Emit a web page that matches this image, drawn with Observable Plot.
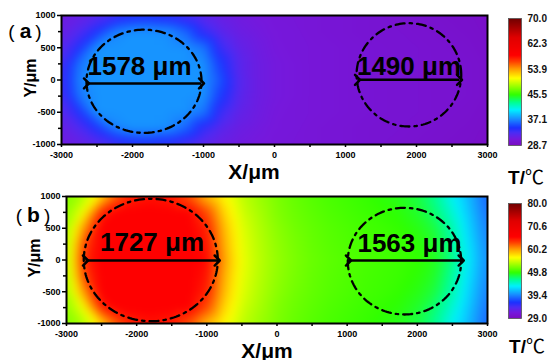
<!DOCTYPE html>
<html>
<head>
<meta charset="utf-8">
<script src="https://cdn.jsdelivr.net/npm/d3@7"></script>
<script src="https://cdn.jsdelivr.net/npm/@observablehq/plot@0.6"></script>
<style>
  html, body { margin: 0; padding: 0; background: #fff; }
  body { width: 551px; height: 360px; position: relative; overflow: hidden; font-family: "Liberation Sans", Arial, sans-serif; color: #000; }
  .box { position: absolute; }
  .lab { position: absolute; line-height: 1; white-space: nowrap; transform: translate(-50%, -50%); }
</style>
</head>
<body>
<div class="box" id="pa" style="left:0;top:0"></div>
<div class="box" id="pb" style="left:0;top:180px"></div>
<div class="box" id="ca" style="left:500px;top:0"></div>
<div class="box" id="cb" style="left:500px;top:180px"></div>

<div class="lab" style="left:25px;top:30px;font-size:19px;">(<b style="font-size:21px;margin:0 4px 0 5px">a</b>)</div>
<div class="lab" style="left:33px;top:214px;font-size:19px;">(<b style="font-size:21px;margin:0 4px 0 5px">b</b>)</div>
<div class="lab" style="left:31px;top:78px;font-size:16px;font-weight:bold;transform:translate(-50%,-50%) rotate(-90deg)">Y/μm</div>
<div class="lab" style="left:35px;top:258px;font-size:16px;font-weight:bold;transform:translate(-50%,-50%) rotate(-90deg)">Y/μm</div>
<div class="lab" style="left:254px;top:171px;font-size:21px;font-weight:bold">X/μm</div>
<div class="lab" style="left:267px;top:350px;font-size:21px;font-weight:bold">X/μm</div>
<div class="lab" style="left:526px;top:176px;font-size:19px;"><b>T/</b><span style="font-family:'Noto Sans CJK SC'">℃</span></div>
<div class="lab" style="left:527px;top:345px;font-size:19px;"><b>T/</b><span style="font-family:'Noto Sans CJK SC'">℃</span></div>

<script>
// ---- grid coordinates (μm) ----
const xs = [-3000,-2750,-2500,-2250,-2000,-1750,-1500,-1250,-1000,-750,-500,-250,0,250,500,750,1000,1250,1500,1750,2000,2250,2500,2750,3000];
const ys = [1000,750,500,250,0,-250,-500,-750,-1000];

// ---- panel (a) temperatures (°C), rows follow ys, columns follow xs ----
const tempA = [
  [31.2,31.5,32.2,33.0,33.8,34.0,33.5,32.7,31.9,31.3,31.0,30.8,30.6,30.5,30.4,30.3,30.2,30.1,30.0,29.9,29.8,29.7,29.6,29.5,29.3],
  [31.5,32.6,34.5,36.9,37.5,37.5,37.4,36.2,33.6,32.1,31.3,31.0,30.7,30.6,30.4,30.3,30.2,30.1,30.0,30.0,29.9,29.8,29.7,29.6,29.4],
  [32.2,34.4,37.5,37.5,37.5,37.5,37.5,37.5,36.7,33.3,31.8,31.2,30.8,30.6,30.5,30.4,30.3,30.2,30.1,30.0,30.0,29.9,29.8,29.7,29.5],
  [32.9,36.6,37.5,37.5,37.5,37.5,37.5,37.5,37.5,34.7,32.2,31.3,30.9,30.7,30.5,30.4,30.3,30.2,30.1,30.0,30.0,29.9,29.9,29.8,29.6],
  [33.2,37.0,37.5,37.5,37.5,37.5,37.5,37.5,37.5,35.5,32.4,31.3,30.9,30.7,30.5,30.4,30.3,30.2,30.1,30.0,30.0,29.9,29.9,29.8,29.6],
  [32.9,36.6,37.5,37.5,37.5,37.5,37.5,37.5,37.5,34.7,32.2,31.3,30.9,30.7,30.5,30.4,30.3,30.2,30.1,30.0,30.0,29.9,29.9,29.8,29.6],
  [32.2,34.4,37.5,37.5,37.5,37.5,37.5,37.5,36.7,33.3,31.8,31.2,30.8,30.6,30.5,30.4,30.3,30.2,30.1,30.0,30.0,29.9,29.8,29.7,29.5],
  [31.5,32.6,34.5,36.9,37.5,37.5,37.4,36.2,33.6,32.1,31.3,31.0,30.7,30.6,30.4,30.3,30.2,30.1,30.0,30.0,29.9,29.8,29.7,29.6,29.4],
  [31.2,31.5,32.2,33.0,33.8,34.0,33.5,32.7,31.9,31.3,31.0,30.8,30.6,30.5,30.4,30.3,30.2,30.1,30.0,29.9,29.8,29.7,29.6,29.5,29.3]
];

// ---- panel (b) temperatures (°C) ----
const tempB = [
  [52.0,53.5,57.5,62.0,64.0,64.5,64.0,62.0,58.5,56.0,54.0,52.8,51.8,51.1,50.6,50.2,49.9,49.6,49.2,48.8,48.0,46.3,43.5,41.0,38.0],
  [52.5,56.0,64.0,65.5,65.5,65.5,65.5,65.5,62.5,57.5,54.5,53.2,52.0,51.3,50.8,50.4,50.1,49.8,49.5,49.2,48.5,47.0,44.5,41.5,38.5],
  [53.0,60.0,65.5,65.5,65.5,65.5,65.5,65.5,64.0,58.5,55.0,53.5,52.3,51.5,51.0,50.6,50.3,50.0,49.8,49.5,49.0,48.0,45.5,42.0,39.0],
  [53.3,62.5,65.5,65.5,65.5,65.5,65.5,65.5,64.5,59.0,55.3,53.7,52.5,51.7,51.1,50.7,50.4,50.1,49.9,49.7,49.3,48.5,46.0,42.5,39.3],
  [53.5,63.5,65.5,65.5,65.5,65.5,65.5,65.5,65.0,59.5,55.5,53.8,52.6,51.8,51.2,50.8,50.5,50.2,50.0,49.8,49.5,48.8,46.5,42.8,39.5],
  [53.3,62.5,65.5,65.5,65.5,65.5,65.5,65.5,64.5,59.0,55.3,53.7,52.5,51.7,51.1,50.7,50.4,50.1,49.9,49.7,49.3,48.5,46.0,42.5,39.3],
  [53.0,60.0,65.5,65.5,65.5,65.5,65.5,65.5,64.0,58.5,55.0,53.5,52.3,51.5,51.0,50.6,50.3,50.0,49.8,49.5,49.0,48.0,45.5,42.0,39.0],
  [52.5,56.0,64.0,65.5,65.5,65.5,65.5,65.5,62.5,57.5,54.5,53.2,52.0,51.3,50.8,50.4,50.1,49.8,49.5,49.2,48.5,47.0,44.5,41.5,38.5],
  [52.0,53.5,57.5,62.0,64.0,64.5,64.0,62.0,58.5,56.0,54.0,52.8,51.8,51.1,50.6,50.2,49.9,49.6,49.2,48.8,48.0,46.3,43.5,41.0,38.0]
];

// ---- ticks and colour-bar labels ----
const xTicks = [-3000,-2000,-1000,0,1000,2000,3000];
const xMinor = [-2500,-1500,-500,500,1500,2500];
const yTicks = [-1000,-500,0,500,1000];
const yMinor = [-750,-250,250,750];
const barLabelsA = ["28.7","37.1","45.5","53.9","62.3","70.0"];
const barLabelsB = ["29.0","39.4","49.8","60.2","70.6","80.0"];
const rangeA = [28.7, 70.0];
const rangeB = [29.0, 80.0];

// ---- annotations (μm) ----
const spotsA = [ {cx:-1838, cy:-20, rx:810, ry:800}, {cx:1893, cy:80, rx:737, ry:801} ];
const spotsB = [ {cx:-1799, cy:0, rx:955, ry:964}, {cx:1817, cy:-18, rx:808, ry:840} ];
const arrowsA = [ {x1:-2648, x2:-1028, y:-54, label:"1578 μm", lx:-1901, ly:202},
                  {x1:1169, x2:2606, y:3, label:"1490 μm", lx:1894, ly:209} ];
const arrowsB = [ {x1:-2729, x2:-852, y:-8, label:"1727 μm", lx:-1781, ly:271},
                  {x1:1019, x2:2625, y:-8, label:"1563 μm", lx:1888, ly:260} ];

// ---- colour map (rainbow, purple -> dark red) ----
const stopPos = [0, 0.05, 0.10, 0.14, 0.21, 0.28, 0.34, 0.40, 0.47, 0.53, 0.60, 0.66, 0.71, 0.85, 1];
const stopCol = ["#7a0cc0","#7618dc","#4c2cf4","#1a30ff","#1890ff","#00f0ff","#00ff90","#30ff00","#a0ff00","#ffff00","#ffa000","#ff4000","#ff0000","#e00000","#700000"];
const cs = d3.scaleLinear().domain(stopPos).range(stopCol).interpolate(d3.interpolateRgb).clamp(true);
const cmap = (t) => cs(t);

const FONT = "Liberation Sans, Arial, sans-serif";

function panel(temps, domain, spots, arrows, m) {
  const grid = ys.flatMap((y, j) => xs.map((x, i) => ({x, y, t: temps[j][i]})));
  const rings = spots.flatMap((c, k) => d3.range(0, 362, 2).map(a => ({
    k, x: c.cx + c.rx * Math.cos(a * Math.PI / 180), y: c.cy + c.ry * Math.sin(a * Math.PI / 180)
  })));
  return Plot.plot({
    width: 500, height: 160,
    marginLeft: m.ml, marginRight: 13, marginTop: m.mt, marginBottom: m.mb,
    x: {domain: [-3000, 3000]},
    y: {domain: [-1000, 1000]},
    color: {type: "linear", domain, interpolate: cmap},
    style: {fontFamily: FONT, color: "black", background: "transparent", overflow: "visible"},
    marks: [
      Plot.raster(grid, {x: "x", y: "y", fill: "t", interpolate: "barycentric", blur: 4, x1: -3000, x2: 3000, y1: -1000, y2: 1000}),
      Plot.line(rings, {x: "x", y: "y", z: "k", stroke: "black", strokeWidth: 2.3, strokeDasharray: "9,5,2.5,5"}),
      Plot.link(arrows, {x1: "x1", x2: "x2", y1: "y", y2: "y", stroke: "black", strokeWidth: 2.5, markerStart: "arrow", markerEnd: "arrow"}),
      Plot.text(arrows, {x: "lx", y: "ly", text: "label", fontSize: 26, fontWeight: "bold", fill: "black"}),
      Plot.frame({stroke: "black", strokeWidth: 2}),
      Plot.axisX(xTicks, {anchor: "bottom", tickSize: 3, tickPadding: 4, tickFormat: d => String(d), fontSize: 9, fontWeight: "bold", strokeWidth: 1.5, label: null}),
      Plot.axisX(xMinor, {anchor: "bottom", tickSize: 3, text: null, strokeWidth: 1.5, label: null}),
      Plot.axisY(yTicks, {anchor: "left", tickSize: 4, tickPadding: 2, tickFormat: d => String(d), fontSize: 9, fontWeight: "bold", strokeWidth: 1.5, label: null}),
      Plot.axisY(yMinor, {anchor: "left", tickSize: 3, text: null, strokeWidth: 1.5, label: null})
    ]
  });
}

function colorbar(domain, labels, m) {
  const [lo, hi] = domain;
  const step = (hi - lo) / (labels.length - 1);
  return Plot.plot({
    width: 51, height: 160,
    marginLeft: 8, marginRight: 30, marginTop: m.mt, marginBottom: m.mb,
    x: {domain: [0, 1], axis: null},
    y: {domain: [lo, hi], axis: null},
    color: {type: "linear", domain, interpolate: cmap},
    style: {fontFamily: FONT, color: "black", background: "transparent", overflow: "visible"},
    marks: [
      Plot.raster({x1: 0, x2: 1, y1: lo, y2: hi, fill: (x, y) => y}),
      Plot.frame({stroke: "#555", strokeWidth: 0.8}),
      Plot.text(labels, {x: 1, y: (d, i) => lo + i * step, text: d => d, dx: 6, textAnchor: "start", fontSize: 10, fontWeight: "bold", fill: "#111"})
    ]
  });
}

document.getElementById("pa").append(panel(tempA, rangeA, spotsA, arrowsA, {ml: 61, mt: 15, mb: 16}));
document.getElementById("pb").append(panel(tempB, rangeB, spotsB, arrowsB, {ml: 66, mt: 16, mb: 17}));
document.getElementById("ca").append(colorbar(rangeA, barLabelsA, {mt: 18, mb: 15}));
document.getElementById("cb").append(colorbar(rangeB, barLabelsB, {mt: 23, mb: 22}));
</script>
</body>
</html>
